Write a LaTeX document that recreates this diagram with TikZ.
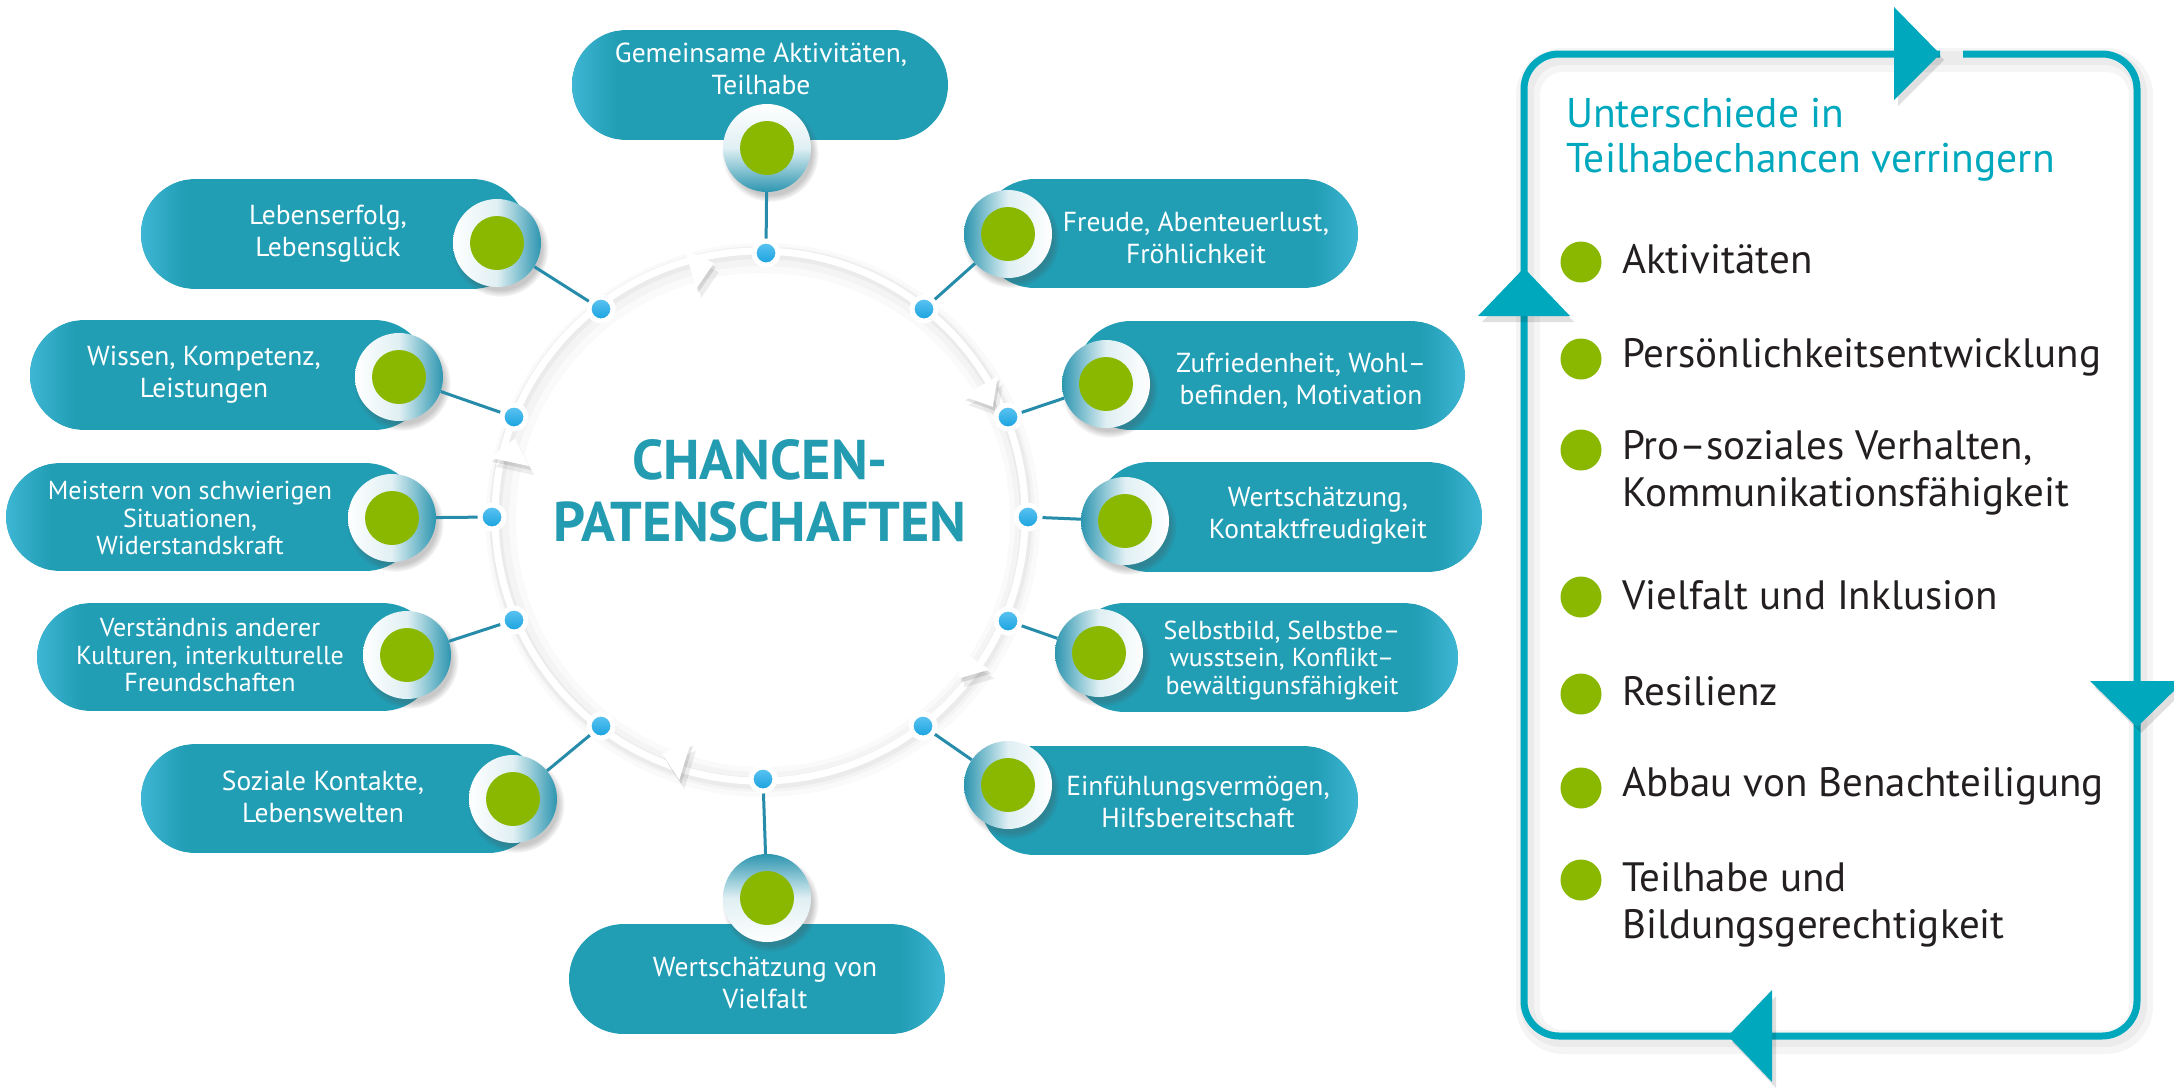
\documentclass[tikz,border=0pt]{standalone}
\usepackage{fontspec}
\setmainfont{PT Sans}
\usetikzlibrary{shadows}
\definecolor{pillc}{RGB}{33,157,180}
\definecolor{pilllight}{RGB}{62,182,212}
\definecolor{titlec}{RGB}{35,156,178}
\definecolor{panelc}{RGB}{0,168,190}
\definecolor{greenc}{RGB}{138,183,0}
\definecolor{dotc}{RGB}{22,160,222}
\definecolor{dotlight}{RGB}{95,198,242}
\definecolor{connc}{RGB}{38,140,170}
\definecolor{ringc}{RGB}{45,150,176}
\definecolor{textdark}{RGB}{35,31,32}
\newcommand{\pillLeft}[4]{\begin{scope}\clip[rounded corners=55] (#1,#2) rectangle (#3,#4); \fill[pillc] (#1,#2) rectangle (#3,#4); \shade[left color=pilllight, right color=pillc] (#1,#2) rectangle ({#1+45},#4); \end{scope}}
\newcommand{\pillRight}[4]{\begin{scope}\clip[rounded corners=55] (#1,#2) rectangle (#3,#4); \fill[pillc] (#1,#2) rectangle (#3,#4); \shade[left color=pillc, right color=pilllight] ({#3-45},#2) rectangle (#3,#4); \end{scope}}
\tikzset{
  pilltext/.style={text=white, align=center, inner sep=0, font=\fontsize{27.5}{32}\selectfont},
  pilltextsmall/.style={text=white, align=center, inner sep=0, font=\fontsize{26}{27.5}\selectfont},
  dotnode/.style={circle, draw=white, line width=5, top color=dotlight, bottom color=dotc, minimum size=24, inner sep=0},
  ringbase/.style={circle, minimum size=88, inner sep=0,
    circular drop shadow={shadow xshift=3pt, shadow yshift=-5pt, opacity=0.3, fill=black!70},
    path picture={\fill[greenc] (path picture bounding box.center) circle (27);}},
  ringL/.style={ringbase, left color=white, right color=ringc, middle color=white!85!ringc},
  ringR/.style={ringbase, left color=ringc, right color=white, middle color=white!85!ringc},
  ringT/.style={ringbase, top color=white, bottom color=ringc, middle color=white!85!ringc},
  ringB/.style={ringbase, top color=ringc, bottom color=white, middle color=white!85!ringc},
  conn/.style={connc, line width=3},
  bulletnode/.style={circle, fill=greenc, minimum size=41, inner sep=0},
  itemtext/.style={text=textdark, anchor=west, align=left, inner sep=0, font=\fontsize{41}{47}\selectfont},
  paneltri/.style={fill=panelc},
  trishadow/.style={fill=black, opacity=0.12},
}
\begin{document}
\begin{tikzpicture}[x=1pt,y=-1pt]
\useasboundingbox (0,0) rectangle (2174,1088);
\clip (0,0) rectangle (2174,1088);
\fill[white] (0,0) rectangle (2174,1088);

% central ring
\draw[black, opacity=.02, line width=30] (763,520) circle (262);
\draw[black, opacity=.025, line width=20] (762,519) circle (263);
\draw[black, opacity=.035, line width=12] (761,518) circle (265);
\draw[white, line width=7] (760,516) circle (265);

% direction triangles on ring (clockwise)
\foreach \a in {105.7,30.5,167.8,-33.8,253} {
  \pgfmathsetmacro\bx{760+256*cos(\a)}
  \pgfmathsetmacro\by{516-256*sin(\a)}
  \pgfmathsetmacro\tx{sin(\a)}
  \pgfmathsetmacro\ty{cos(\a)}
  \pgfmathsetmacro\nx{cos(\a)}
  \pgfmathsetmacro\ny{-sin(\a)}
  \fill[black, opacity=0.07] ({\bx+24*\tx+5},{\by+24*\ty+9}) -- ({\bx+20*\nx+5},{\by+20*\ny+9}) -- ({\bx-20*\nx+5},{\by-20*\ny+9}) -- cycle;
  \fill[black, opacity=0.10] ({\bx+24*\tx+2},{\by+24*\ty+4}) -- ({\bx+20*\nx+2},{\by+20*\ny+4}) -- ({\bx-20*\nx+2},{\by-20*\ny+4}) -- cycle;
  \fill[white] ({\bx+24*\tx},{\by+24*\ty}) -- ({\bx+20*\nx},{\by+20*\ny}) -- ({\bx-20*\nx},{\by-20*\ny}) -- cycle;
}

% title
\node[text=titlec, align=center, inner sep=0, font=\fontsize{56}{62}\selectfont\bfseries] (title) at (760,491) {CHANCEN-\\PATENSCHAFTEN};

% pills
\pillLeft{572}{30}{948}{140}
\pillRight{980}{179}{1358}{288}
\pillRight{1076}{321}{1465}{430}
\pillRight{1095}{462}{1482}{572}
\pillRight{1070}{603}{1458}{712}
\pillRight{980}{746}{1358}{855}
\pillRight{569}{924}{945}{1034}
\pillLeft{141}{744}{543}{853}
\pillLeft{37}{603}{437}{711}
\pillLeft{6}{463}{420}{571}
\pillLeft{30}{320}{429}{430}
\pillLeft{141}{179}{527}{289}

% pill texts
\node[pilltext] (t1) at (761,69) {Gemeinsame Aktivitäten,\\Teilhabe};
\node[pilltext] (t2) at (1196,238) {Freude, Abenteuerlust,\\Fröhlichkeit};
\node[pilltext] (t3) at (1301,381) {Zufriedenheit, Wohl–\\befinden, Motivation};
\node[pilltext] (t4) at (1318,516) {Wertschätzung,\\Kontaktfreudigkeit};
\node[pilltextsmall] (t5) at (1282,660) {Selbstbild, Selbstbe–\\wusstsein, Konflikt–\\bewältigunsfähigkeit};
\node[pilltext] (t6) at (1198,802) {Einfühlungsvermögen,\\Hilfsbereitschaft};
\node[pilltext] (t7) at (765,983) {Wertschätzung von\\Vielfalt};
\node[pilltext] (t8) at (323,797) {Soziale Kontakte,\\Lebenswelten};
\node[pilltextsmall] (t9) at (210,655) {Verständnis anderer\\Kulturen, interkulturelle\\Freundschaften};
\node[pilltextsmall] (t10) at (190,518) {Meistern von schwierigen\\Situationen,\\Widerstandskraft};
\node[pilltext] (t11) at (204,375) {Wissen, Kompetenz,\\Leistungen};
\node[pilltext] (t12) at (328,234) {Lebenserfolg,\\Lebensglück};

% dots on ring
\node[dotnode] (d1) at (766,253) {};
\node[dotnode] (d2) at (924,309) {};
\node[dotnode] (d3) at (1008,417) {};
\node[dotnode] (d4) at (1028,517) {};
\node[dotnode] (d5) at (1008,621) {};
\node[dotnode] (d6) at (923,726) {};
\node[dotnode] (d7) at (763,779) {};
\node[dotnode] (d8) at (601,726) {};
\node[dotnode] (d9) at (514,620) {};
\node[dotnode] (d10) at (492,517) {};
\node[dotnode] (d11) at (514,417) {};
\node[dotnode] (d12) at (601,309) {};

% rings with green centres
\node[ringT] (r1) at (767,148) {};
\node[ringR] (r2) at (1008,234) {};
\node[ringR] (r3) at (1106,384) {};
\node[ringR] (r4) at (1125,521) {};
\node[ringR] (r5) at (1099,653) {};
\node[ringR] (r6) at (1008,785) {};
\node[ringB] (r7) at (767,898) {};
\node[ringL] (r8) at (513,799) {};
\node[ringL] (r9) at (407,655) {};
\node[ringL] (r10) at (392,518) {};
\node[ringL] (r11) at (399,377) {};
\node[ringL] (r12) at (497,243) {};

% connectors
\foreach \i in {1,...,12} { \draw[conn] (d\i) -- (r\i); }

% right panel
\draw[black, opacity=0.04, line width=24, rounded corners=35] (1528,60) -- (2141,60) -- (2141,1042) -- (1528,1042) -- cycle;
\draw[black, opacity=0.04, line width=14, rounded corners=35] (1527,58) -- (2140,58) -- (2140,1040) -- (1527,1040) -- cycle;
\draw[panelc, line width=7, rounded corners=35] (1963,54) -- (2137,54) -- (2137,1036) -- (1524,1036) -- (1524,54) -- (1940,54);
\fill[trishadow] (1898,13) -- (1944,60) -- (1898,106) -- cycle;
\fill[paneltri] (1894,7) -- (1940,54) -- (1894,100) -- cycle;
\fill[trishadow] (1482,322) -- (1528,274) -- (1574,322) -- cycle;
\fill[paneltri] (1478,316) -- (1524,268) -- (1570,316) -- cycle;
\fill[trishadow] (2094,687) -- (2141,733) -- (2188,687) -- cycle;
\fill[paneltri] (2090,681) -- (2137,727) -- (2184,681) -- cycle;
\fill[trishadow] (1776,996) -- (1732,1042) -- (1776,1088) -- cycle;
\fill[paneltri] (1772,990) -- (1728,1036) -- (1772,1082) -- cycle;

\node[text=panelc, anchor=west, align=left, inner sep=0, font=\fontsize{41.5}{45}\selectfont] (head) at (1566,140) {Unterschiede in\\Teilhabechancen verringern};

\node[bulletnode] (b1) at (1581,262) {};
\node[itemtext] (i1) at (1622,259) {Aktivitäten};
\node[bulletnode] (b2) at (1581,359) {};
\node[itemtext] (i2) at (1622,357) {Persönlichkeitsentwicklung};
\node[bulletnode] (b3) at (1581,450) {};
\node[itemtext] (i3) at (1622,473) {Pro–soziales Verhalten,\\Kommunikationsfähigkeit};
\node[bulletnode] (b4) at (1581,597) {};
\node[itemtext] (i4) at (1622,595) {Vielfalt und Inklusion};
\node[bulletnode] (b5) at (1581,694) {};
\node[itemtext] (i5) at (1622,691) {Resilienz};
\node[bulletnode] (b6) at (1581,788) {};
\node[itemtext] (i6) at (1622,786) {Abbau von Benachteiligung};
\node[bulletnode] (b7) at (1581,880) {};
\node[itemtext] (i7) at (1622,905) {Teilhabe und\\Bildungsgerechtigkeit};
\end{tikzpicture}
\end{document}
